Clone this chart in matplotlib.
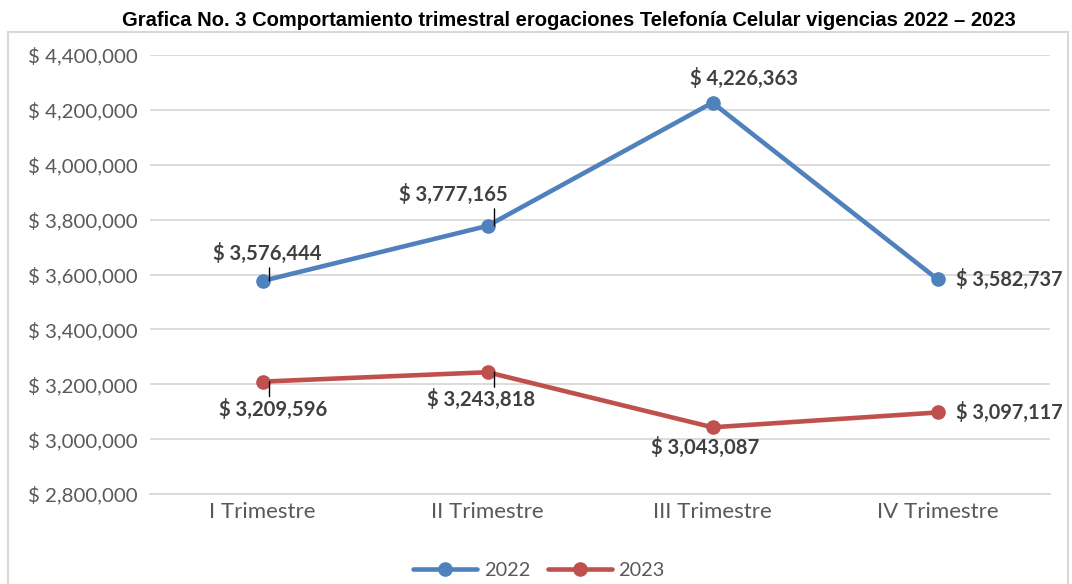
import matplotlib
matplotlib.use("Agg")
import matplotlib.pyplot as plt
import matplotlib.transforms as mtransforms
from matplotlib.patches import Rectangle
from matplotlib.ticker import FuncFormatter, MultipleLocator

categories = ["I Trimestre", "II Trimestre", "III Trimestre", "IV Trimestre"]
values_2022 = [3576444, 3777165, 4226363, 3582737]
values_2023 = [3209596, 3243818, 3043087, 3097117]
series_names = ["2022", "2023"]
title = "Grafica No. 3 Comportamiento trimestral erogaciones Telefonía Celular vigencias 2022 – 2023"

BLUE = "#4f81bd"
RED = "#c0504d"
GRID = "#d9d9d9"
TXT = "#595959"
LBL = "#404040"

plt.rcParams['font.family'] = ['Lato', 'DejaVu Sans']

fig = plt.figure(figsize=(10.72, 5.84), dpi=100)
W, H = 1072, 584
ax = fig.add_axes([150 / W, 1 - 494 / H, 900 / W, (494 - 55) / H])

x = list(range(len(categories)))
ax.plot(x, values_2022, color=BLUE, lw=3.3, marker='o', ms=9.5, label=series_names[0],
        solid_capstyle='round', zorder=3)
ax.plot(x, values_2023, color=RED, lw=3.3, marker='o', ms=9.5, label=series_names[1],
        solid_capstyle='round', zorder=3)

ax.set_xlim(-0.5, 3.5)
ax.set_ylim(2800000, 4400000)
ax.yaxis.set_major_locator(MultipleLocator(200000))
ax.yaxis.set_major_formatter(FuncFormatter(lambda v, p: "$ {:,.0f}".format(v)))
ax.set_xticks(x)
ax.set_xticklabels(categories)
ax.grid(axis='y', color=GRID, lw=1.3)
ax.set_axisbelow(True)
for s in ['top', 'right', 'left']:
    ax.spines[s].set_visible(False)
ax.spines['bottom'].set_color(GRID)
ax.spines['bottom'].set_linewidth(1.3)
ax.tick_params(axis='both', length=0, colors=TXT)
ax.tick_params(axis='y', pad=9, labelsize=14.7)
ax.tick_params(axis='x', pad=6, labelsize=16)

px = 72 / 100.0  # points per pixel

def label(i, v, dx, dy, ha='center', fs=14.6):
    ax.annotate("$ {:,.0f}".format(v), xy=(i, v), xytext=(dx * px, dy * px),
                textcoords='offset points', ha=ha, va='center',
                fontsize=fs, fontweight='bold', color=LBL, zorder=5)

def leader(i, v, dy):
    tr = mtransforms.offset_copy(ax.transData, fig=fig, x=7, y=0, units='dots')
    ax.annotate('', xy=(i, v), xycoords=tr, xytext=(0, dy * px), textcoords='offset points',
                arrowprops=dict(arrowstyle='-', color='black', lw=1, shrinkA=0, shrinkB=0),
                zorder=4)

label(0, values_2022[0], 5, 28)
label(1, values_2022[1], -34, 31)
label(2, values_2022[2], 31, 24)
label(3, values_2022[3], 19, 0, ha='left', fs=14.3)
label(0, values_2023[0], 11, -28)
label(1, values_2023[1], -6, -27)
label(2, values_2023[2], -7, -20)
label(3, values_2023[3], 19, 0, ha='left', fs=14.3)

leader(0, values_2022[0], 13)
leader(1, values_2022[1], 17)
leader(0, values_2023[0], -15)
leader(1, values_2023[1], -15)

leg = fig.legend(loc='center', bbox_to_anchor=(539 / W, 1 - 570 / H), ncol=2, frameon=False,
                 fontsize=14.3, handlelength=3.2, columnspacing=0.9, handletextpad=0.35)
for t in leg.get_texts():
    t.set_color(TXT)

fig.text(569 / W, 1 - 20 / H, title, ha='center', va='center', fontsize=14.5,
         fontweight='bold', family=['Liberation Sans', 'DejaVu Sans'], color='black')

fig.patches.append(Rectangle((8 / W, -0.05), (1068 - 8) / W, 1 - 32 / H + 0.05,
                             transform=fig.transFigure, fill=False, edgecolor=GRID, lw=1.5,
                             zorder=0))

fig.savefig("out.png", dpi=100)
